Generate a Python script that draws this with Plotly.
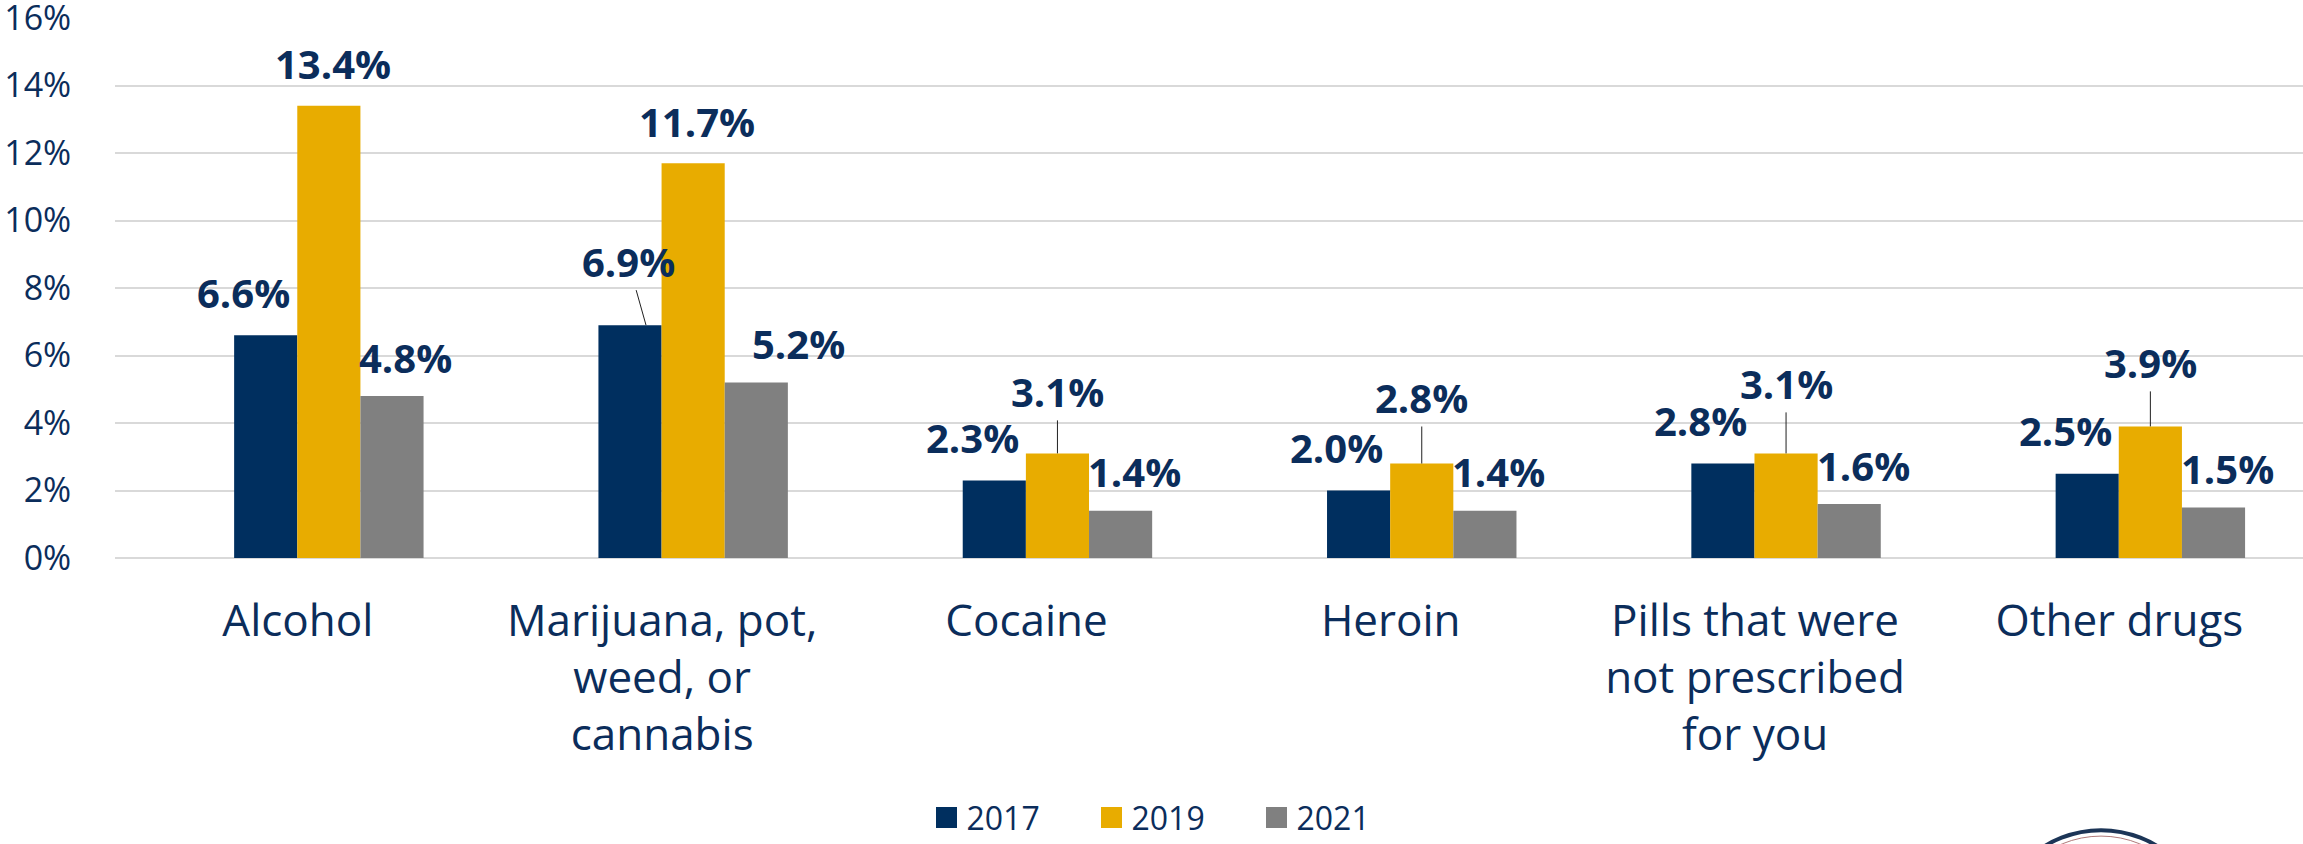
import plotly.graph_objects as go

# Data
categories = [
    "Alcohol",
    "Marijuana, pot,<br>weed, or<br>cannabis",
    "Cocaine",
    "Heroin",
    "Pills that were<br>not prescribed<br>for you",
    "Other drugs",
]
years = ["2017", "2019", "2021"]
values_2017 = [6.6, 6.9, 2.3, 2.0, 2.8, 2.5]
values_2019 = [13.4, 11.7, 3.1, 2.8, 3.1, 3.9]
values_2021 = [4.8, 5.2, 1.4, 1.4, 1.6, 1.5]

series = [values_2017, values_2019, values_2021]
colors = ["#002F5F", "#E8AC00", "#808080"]
navy = "#0B2D5B"
font_family = "Open Sans"

# label placement (pixel offsets from the top of each bar)
default_offset = {0: (-22, 43), 1: (4, 42), 2: (14, 39)}
override_offset = {(1, 2): (42, 39)}
# labels that sit higher with a leader line: (category, series) -> (ax, ay, xshift)
leaders = {
    (1, 0): (-18, -64, 16),
    (2, 1): (0, -62, 0),
    (3, 1): (0, -66, 0),
    (4, 1): (0, -70, 0),
    (5, 1): (0, -64, 0),
}

bargap = 0.48
bar_w = (1 - bargap) / 3

fig = go.Figure()
for j, (yr, vals) in enumerate(zip(years, series)):
    fig.add_trace(go.Bar(
        x=categories, y=vals, name=yr,
        marker=dict(color=colors[j], line=dict(width=0)),
        showlegend=False,
    ))
    # legend entry with a bigger square
    fig.add_trace(go.Scatter(
        x=[None], y=[None], mode="markers", name=yr,
        marker=dict(symbol="square", size=16, color=colors[j],
                    line=dict(color=colors[j], width=5)),
    ))

annotations = []
for j, vals in enumerate(series):
    for i, v in enumerate(vals):
        xpos = i + (j - 1) * bar_w
        text = f"{v:.1f}%"
        lab_font = dict(family=font_family, size=40, color=navy, weight="bold")
        if (i, j) in leaders:
            ax, ay, xs = leaders[(i, j)]
            annotations.append(dict(
                x=xpos, y=v, xref="x", yref="y", text=text, font=lab_font,
                showarrow=True, arrowhead=0, arrowwidth=1, arrowcolor="#202020",
                ax=ax, ay=ay, xshift=xs, standoff=0, startstandoff=0,
            ))
        else:
            dx, dy = override_offset.get((i, j), default_offset[j])
            annotations.append(dict(
                x=xpos, y=v, xref="x", yref="y", text=text, font=lab_font,
                showarrow=False, xanchor="center", yanchor="middle",
                xshift=dx, yshift=dy,
            ))

fig.update_layout(
    width=2303, height=844,
    margin=dict(l=115, r=0, t=18, b=286, autoexpand=False),
    paper_bgcolor="white", plot_bgcolor="white",
    barmode="group", bargap=bargap, bargroupgap=0,
    font=dict(family=font_family, color=navy),
    xaxis=dict(
        range=[-0.587, 5.419], showgrid=False, showline=False, zeroline=False,
        ticks="outside", ticklen=24, tickcolor="rgba(0,0,0,0)",
        ticklabelshift=-31,
        tickfont=dict(size=44, color=navy, family=font_family),
    ),
    yaxis=dict(
        range=[0, 16], dtick=2, ticksuffix="%",
        showgrid=True, gridcolor="#D9D9D9", gridwidth=2,
        zeroline=True, zerolinecolor="#D9D9D9", zerolinewidth=2,
        ticks="outside", ticklen=36, tickcolor="rgba(0,0,0,0)",
        ticklabeloverflow="allow",
        tickfont=dict(size=34, color=navy, family=font_family),
    ),
    legend=dict(
        orientation="h", x=0.484, xanchor="center", y=-0.481, yanchor="middle",
        font=dict(size=32, color=navy, family=font_family),
        entrywidth=120, entrywidthmode="pixels",
    ),
    annotations=annotations,
    shapes=[
        dict(type="circle", xref="paper", yref="paper",
             x0=(1994 - 115) / 2188, x1=(2208 - 115) / 2188,
             y0=-0.504, y1=-0.90, line=dict(color="#1C3557", width=4)),
        dict(type="circle", xref="paper", yref="paper",
             x0=(2000 - 115) / 2188, x1=(2202 - 115) / 2188,
             y0=-0.515, y1=-0.89, line=dict(color="#B07A7A", width=1)),
    ],
)

fig.write_html(
    "out.html",
    config={"displayModeBar": False},
    post_script="document.body.style.margin='0px';",
)
